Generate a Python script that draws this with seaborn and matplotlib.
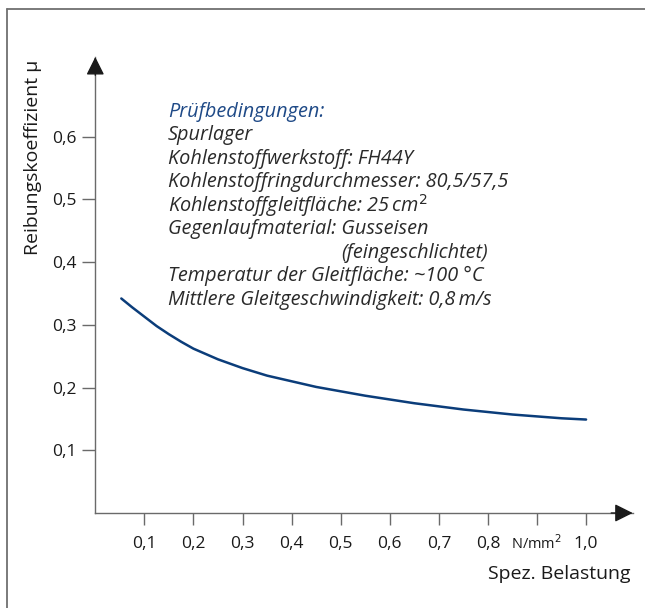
import matplotlib
matplotlib.use('Agg')
import matplotlib.pyplot as plt
import matplotlib.transforms as mtransforms
import seaborn as sb
import pandas as pd
from matplotlib.lines import Line2D

# curve (spez. Belastung in N/mm2, Reibungskoeffizient)
belastung = [0.053, 0.075, 0.10, 0.125, 0.15, 0.175, 0.20, 0.25, 0.30, 0.35,
             0.40, 0.45, 0.50, 0.55, 0.60, 0.65, 0.70, 0.75, 0.80, 0.85,
             0.90, 0.95, 1.00]
reibung = [0.342, 0.328, 0.313, 0.298, 0.285, 0.273, 0.262, 0.245, 0.231, 0.219,
           0.210, 0.201, 0.194, 0.187, 0.181, 0.175, 0.170, 0.165, 0.161, 0.157,
           0.154, 0.151, 0.149]

x_ticks = [0.1, 0.2, 0.3, 0.4, 0.5, 0.6, 0.7, 0.8, 0.9, 1.0]
x_ticklabels = ['0,1', '0,2', '0,3', '0,4', '0,5', '0,6', '0,7', '0,8', 'N/mm$^2$', '1,0']
y_ticks = [0.1, 0.2, 0.3, 0.4, 0.5, 0.6]
y_ticklabels = ['0,1', '0,2', '0,3', '0,4', '0,5', '0,6']

heading = 'Prüfbedingungen:'
conditions = [
    'Spurlager',
    'Kohlenstoffwerkstoff: FH44Y',
    'Kohlenstoffringdurchmesser: 80,5/57,5',
    'Kohlenstoffgleitfläche: 25\u2009cm$^2$',
    'Gegenlaufmaterial: Gusseisen',
    '(feingeschlichtet)',
    'Temperatur der Gleitfläche: ~100 °C',
    'Mittlere Gleitgeschwindigkeit: 0,8\u2009m/s',
]

df = pd.DataFrame({'belastung': belastung, 'reibung': reibung})

sb.set_style("white")
plt.rcParams['font.family'] = ['Open Sans', 'DejaVu Sans']

W, H = 645, 608
fig = plt.figure(figsize=(W / 100, H / 100), dpi=100)
ax = fig.add_axes([95.3 / W, (H - 513) / H, 537.4 / W, 456 / H])

sb.lineplot(data=df, x='belastung', y='reibung', color='#0b3d7a', linewidth=1.8, ax=ax)

ax.set_xlim(0, 1.095)
ax.set_ylim(0, 0.727)
ax.set_xticks(x_ticks)
ax.set_xticklabels(x_ticklabels)
ax.set_yticks(y_ticks)
ax.set_yticklabels(y_ticklabels)
ax.tick_params(axis='both', direction='out', colors='#6a6a6a', labelcolor='#1a1a1a',
               labelsize=12.5, width=1, bottom=True, left=True)
ax.tick_params(axis='x', length=8.5, pad=8)
ax.tick_params(axis='y', length=9.5, pad=4)
# unit label sits in the tick row, smaller and lifted a bit
unit_lbl = ax.get_xticklabels()[8]
unit_lbl.set_fontsize(10.5)
unit_lbl.set_transform(unit_lbl.get_transform()
                       + mtransforms.ScaledTranslation(0, 1.5 / 72, fig.dpi_scale_trans))
ax.set_xlabel('')
ax.set_ylabel('')

for side in ['top', 'right']:
    ax.spines[side].set_visible(False)
for side in ['left', 'bottom']:
    ax.spines[side].set_color('#6a6a6a')
    ax.spines[side].set_linewidth(1)

# arrow heads at the axis ends
ax.annotate('', xy=(0, 1), xycoords='axes fraction', xytext=(0, 0.96),
            arrowprops=dict(arrowstyle='-|>,head_length=1.1,head_width=0.55', color='#1a1a1a', lw=1,
                            shrinkA=0, shrinkB=0), annotation_clip=False)
ax.annotate('', xy=(1, 0), xycoords='axes fraction', xytext=(0.96, 0),
            arrowprops=dict(arrowstyle='-|>,head_length=1.1,head_width=0.55', color='#1a1a1a', lw=1,
                            shrinkA=0, shrinkB=0), annotation_clip=False)

fig.text(33 / W, 1 - 157 / H, 'Reibungskoeffizient μ', rotation=90, ha='center', va='center',
         fontsize=14, color='#1a1a1a')
fig.text(631 / W, 1 - 574 / H, 'Spez. Belastung', ha='right', va='center',
         fontsize=14, color='#1a1a1a')

# test conditions block
y0 = 111.7
step = 23.5
fig.text(168 / W, 1 - y0 / H, heading, ha='left', va='center', fontsize=14.3,
         style='italic', color='#1f4a87')
for i, line in enumerate(conditions):
    x = 341.7 if line.startswith('(') else 168
    fig.text(x / W, 1 - (y0 + step * (i + 1)) / H, line, ha='left', va='center',
             fontsize=14.3, style='italic', color='#2a2a2a')

# frame around the figure (left and top only visible)
fig.add_artist(Line2D([7 / W, 7 / W], [0, 1 - 9 / H], transform=fig.transFigure,
                      color='#707070', lw=1.3))
fig.add_artist(Line2D([7 / W, 1], [1 - 9 / H, 1 - 9 / H], transform=fig.transFigure,
                      color='#707070', lw=1.3))

fig.savefig('out.png', dpi=100)
